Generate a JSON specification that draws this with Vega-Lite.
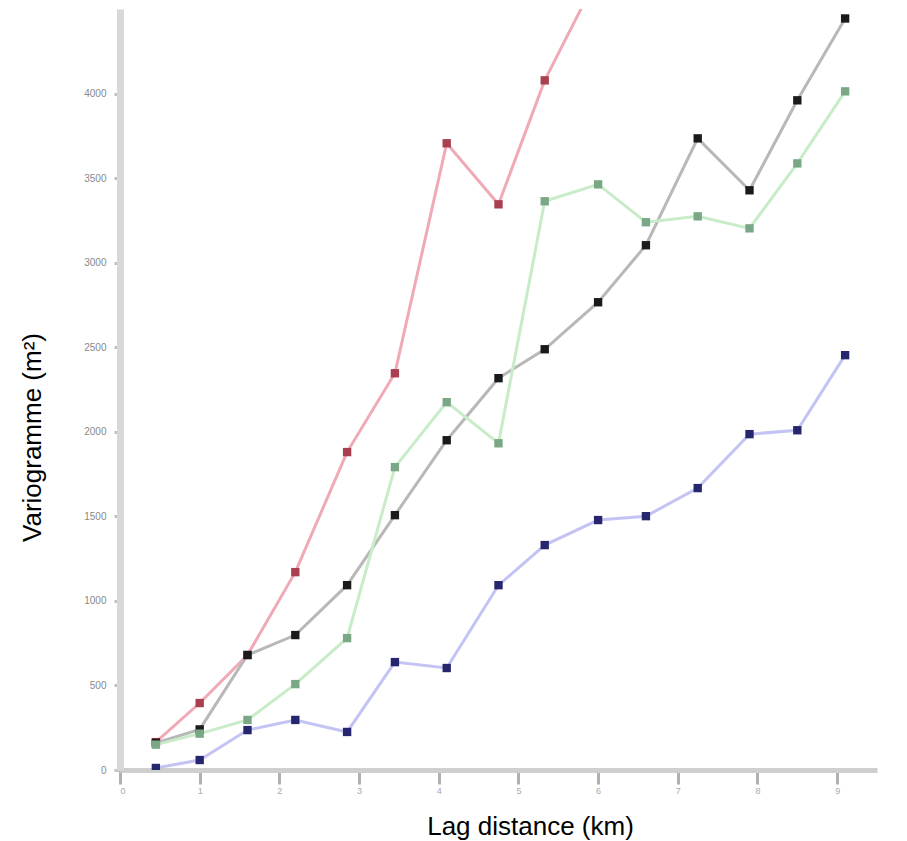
{
  "$schema": "https://vega.github.io/schema/vega-lite/v6.json",
  "width": 757,
  "height": 761,
  "autosize": {"type": "none"},
  "padding": {"left": 120, "top": 9, "right": 30, "bottom": 71},
  "background": "white",
  "config": {"view": {"stroke": null}, "font": "Liberation Sans"},
  "data": {"values": [
    {"s": "A", "d": 0.45, "v": 165}, {"s": "A", "d": 1.0, "v": 396}, {"s": "A", "d": 1.6, "v": 680}, {"s": "A", "d": 2.2, "v": 1170}, {"s": "A", "d": 2.85, "v": 1880}, {"s": "A", "d": 3.45, "v": 2346}, {"s": "A", "d": 4.1, "v": 3706}, {"s": "A", "d": 4.75, "v": 3345}, {"s": "A", "d": 5.33, "v": 4078}, {"s": "A", "d": 6.0, "v": 4700},
    {"s": "B", "d": 0.45, "v": 160}, {"s": "B", "d": 1.0, "v": 240}, {"s": "B", "d": 1.6, "v": 680}, {"s": "B", "d": 2.2, "v": 798}, {"s": "B", "d": 2.85, "v": 1093}, {"s": "B", "d": 3.45, "v": 1507}, {"s": "B", "d": 4.1, "v": 1950}, {"s": "B", "d": 4.75, "v": 2317}, {"s": "B", "d": 5.33, "v": 2488}, {"s": "B", "d": 6.0, "v": 2766}, {"s": "B", "d": 6.6, "v": 3103}, {"s": "B", "d": 7.25, "v": 3735}, {"s": "B", "d": 7.9, "v": 3428}, {"s": "B", "d": 8.5, "v": 3960}, {"s": "B", "d": 9.1, "v": 4444},
    {"s": "C", "d": 0.45, "v": 150}, {"s": "C", "d": 1.0, "v": 215}, {"s": "C", "d": 1.6, "v": 296}, {"s": "C", "d": 2.2, "v": 508}, {"s": "C", "d": 2.85, "v": 780}, {"s": "C", "d": 3.45, "v": 1791}, {"s": "C", "d": 4.1, "v": 2175}, {"s": "C", "d": 4.75, "v": 1932}, {"s": "C", "d": 5.33, "v": 3363}, {"s": "C", "d": 6.0, "v": 3463}, {"s": "C", "d": 6.6, "v": 3239}, {"s": "C", "d": 7.25, "v": 3274}, {"s": "C", "d": 7.9, "v": 3203}, {"s": "C", "d": 8.5, "v": 3587}, {"s": "C", "d": 9.1, "v": 4013},
    {"s": "D", "d": 0.45, "v": 12}, {"s": "D", "d": 1.0, "v": 59}, {"s": "D", "d": 1.6, "v": 236}, {"s": "D", "d": 2.2, "v": 296}, {"s": "D", "d": 2.85, "v": 225}, {"s": "D", "d": 3.45, "v": 638}, {"s": "D", "d": 4.1, "v": 603}, {"s": "D", "d": 4.75, "v": 1093}, {"s": "D", "d": 5.33, "v": 1330}, {"s": "D", "d": 6.0, "v": 1478}, {"s": "D", "d": 6.6, "v": 1501}, {"s": "D", "d": 7.25, "v": 1667}, {"s": "D", "d": 7.9, "v": 1986}, {"s": "D", "d": 8.5, "v": 2009}, {"s": "D", "d": 9.1, "v": 2453}
  ]},
  "encoding": {
    "x": {"field": "d", "type": "quantitative", "scale": {"domain": [0, 9.5], "nice": false},
      "axis": {"title": "Lag distance (km)", "titleFontSize": 26, "titleFontWeight": "normal", "titleColor": "#000", "titleX": 410, "titleY": 56, "titleBaseline": "middle",
        "values": [0, 1, 2, 3, 4, 5, 6, 7, 8, 9], "grid": false, "domainColor": "#cfcfcf", "domainWidth": 5, "tickColor": "#b0b0b0", "tickWidth": 3, "tickSize": 14, "labelFontSize": 9, "labelColor": "#aaa", "labelPadding": 2, "format": "d"}},
    "y": {"field": "v", "type": "quantitative", "scale": {"domain": [0, 4500], "nice": false},
      "axis": {"title": "Variogramme (m²)", "titleFontSize": 26, "titleFontWeight": "normal", "titleColor": "#000", "titleX": -88, "titleY": 428, "titleBaseline": "middle",
        "values": [0, 500, 1000, 1500, 2000, 2500, 3000, 3500, 4000], "grid": false, "domainColor": "#d8d8d8", "domainWidth": 7, "tickColor": "#c0c0c0", "tickWidth": 3, "tickSize": 6, "labelFontSize": 10, "labelColor": "#888", "labelPadding": 8, "format": "d"}}
  },
  "layer": [
    {"mark": {"type": "line", "strokeWidth": 3, "clip": true},
      "encoding": {"color": {"field": "s", "type": "nominal", "legend": null, "scale": {"domain": ["A", "B", "C", "D"], "range": ["#f0aab6", "#b8b8b8", "#c8ecc8", "#c4c4f4"]}}}},
    {"mark": {"type": "point", "shape": "square", "filled": true, "size": 70, "opacity": 1, "clip": true},
      "encoding": {"fill": {"field": "s", "type": "nominal", "legend": null, "scale": {"domain": ["A", "B", "C", "D"], "range": ["#a84050", "#1a1a1a", "#7aa886", "#26266e"]}}}}
  ],
  "resolve": {"scale": {"color": "independent"}}
}
